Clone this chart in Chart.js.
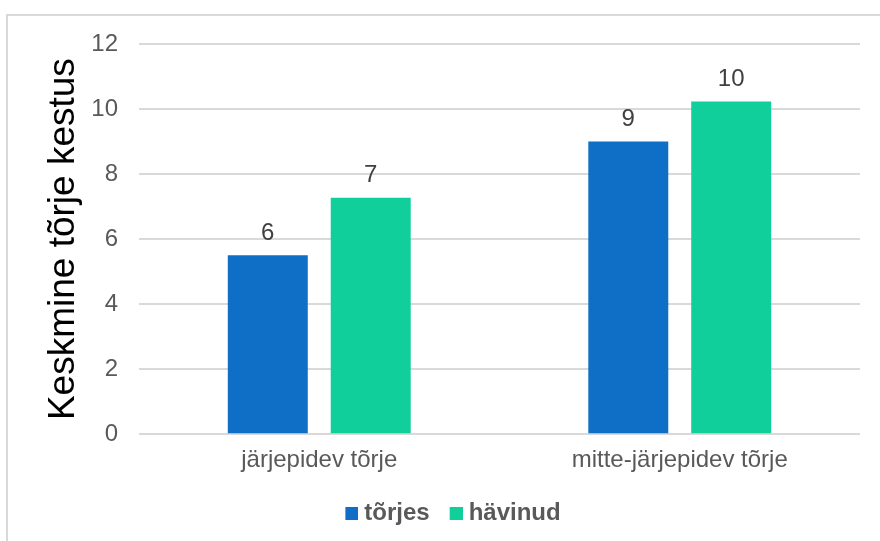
<!DOCTYPE html>
<html>
<head>
<meta charset="utf-8">
<script src="https://cdn.jsdelivr.net/npm/chart.js@4.4.0/dist/chart.umd.min.js"></script>
<style>
  html, body { margin: 0; padding: 0; background: #ffffff; }
  #wrap { position: relative; width: 880px; height: 541px; }
</style>
</head>
<body>
<div id="wrap"><canvas id="c" width="880" height="541"></canvas></div>
<script>
const categories = ["järjepidev tõrje", "mitte-järjepidev tõrje"];
const seriesNames = ["tõrjes", "hävinud"];
const torjes = [5.5, 9.0];
const havinud = [7.27, 10.23];
const yTicks = [0, 2, 4, 6, 8, 10, 12];
const yTitle = "Keskmine tõrje kestus";
const seriesColors = ['#0F6FC6', '#10CF9B'];

const FONT = "'Liberation Sans', Arial, sans-serif";

function legendSwatch(color) {
  const c = document.createElement('canvas');
  c.width = 25; c.height = 13;
  const g = c.getContext('2d');
  g.fillStyle = color;
  g.fillRect(12, 0, 13, 13);
  return c;
}

const frame = {
  id: 'frame',
  beforeDraw(chart) {
    const ctx = chart.ctx;
    ctx.save();
    ctx.strokeStyle = '#d9d9d9';
    ctx.lineWidth = 2;
    ctx.beginPath();
    ctx.moveTo(7, 545);
    ctx.lineTo(7, 15);
    ctx.lineTo(885, 15);
    ctx.stroke();
    ctx.restore();
  }
};

const barLabels = {
  id: 'barLabels',
  afterDatasetsDraw(chart) {
    const ctx = chart.ctx;
    ctx.save();
    ctx.font = "24px " + FONT;
    ctx.fillStyle = '#404040';
    ctx.textAlign = 'center';
    ctx.textBaseline = 'bottom';
    chart.data.datasets.forEach((ds, i) => {
      const meta = chart.getDatasetMeta(i);
      meta.data.forEach((el, j) => {
        ctx.fillText(String(Math.round(ds.data[j])), el.x, el.y - 10);
      });
    });
    ctx.restore();
  }
};

new Chart(document.getElementById('c'), {
  type: 'bar',
  data: {
    labels: categories,
    datasets: [
      { label: seriesNames[0], data: torjes, backgroundColor: seriesColors[0],
        categoryPercentage: 0.571, barPercentage: 0.777 },
      { label: seriesNames[1], data: havinud, backgroundColor: seriesColors[1],
        categoryPercentage: 0.571, barPercentage: 0.777 }
    ]
  },
  options: {
    responsive: false,
    animation: false,
    devicePixelRatio: 1,
    layout: { padding: { left: 40, right: 20, top: 44, bottom: 6 } },
    plugins: {
      legend: {
        position: 'bottom',
        labels: {
          font: { family: FONT, size: 24, weight: 'bold' },
          color: '#595959',
          usePointStyle: true,
          boxWidth: 13, boxHeight: 13,
          padding: 14,
          generateLabels(chart) {
            return chart.data.datasets.map((ds, i) => ({
              text: ds.label,
              fillStyle: ds.backgroundColor,
              strokeStyle: ds.backgroundColor,
              lineWidth: 0,
              fontColor: '#595959',
              pointStyle: legendSwatch(ds.backgroundColor),
              hidden: false,
              datasetIndex: i
            }));
          }
        }
      },
      tooltip: { enabled: false }
    },
    scales: {
      x: {
        grid: { display: false, drawTicks: false },
        border: { display: false },
        ticks: { font: { family: FONT, size: 24 }, color: '#595959', padding: 12, maxRotation: 0 }
      },
      y: {
        min: 0, max: 12,
        afterBuildTicks(scale) { scale.ticks = yTicks.map(v => ({ value: v })); },
        afterFit(scale) { scale.width = 99; },
        grid: { color: '#d9d9d9', lineWidth: 2, drawTicks: false },
        border: { display: false },
        ticks: { font: { family: FONT, size: 24 }, color: '#595959', padding: 21 },
        title: {
          display: true, text: yTitle, color: '#000000',
          font: { family: FONT, size: 37 }, padding: { top: 2, bottom: 0 }
        }
      }
    }
  },
  plugins: [frame, barLabels]
});
</script>
</body>
</html>
